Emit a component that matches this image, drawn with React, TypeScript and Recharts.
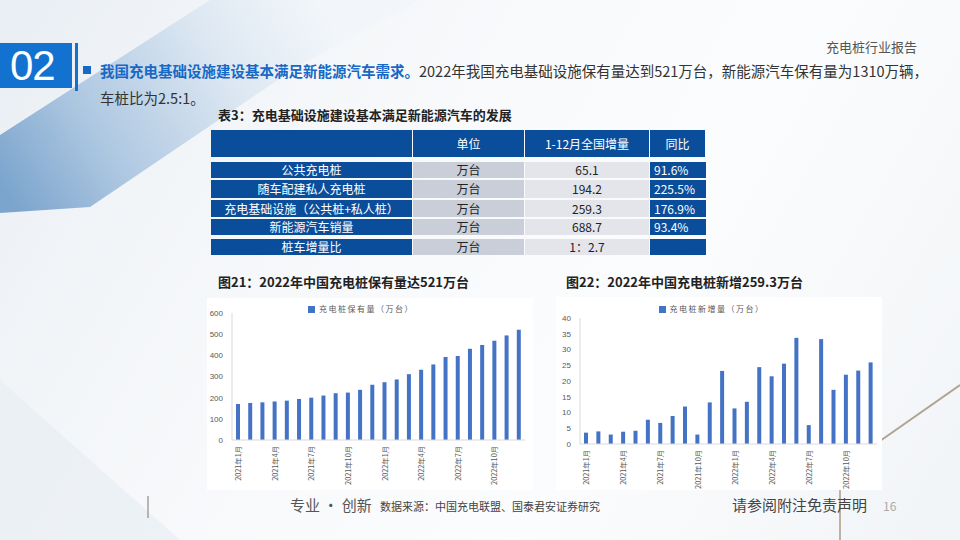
import React from 'react';
import { BarChart, Bar, XAxis, YAxis, Legend } from 'recharts';

const months = [
  '2021年1月', '2021年2月', '2021年3月', '2021年4月', '2021年5月', '2021年6月',
  '2021年7月', '2021年8月', '2021年9月', '2021年10月', '2021年11月', '2021年12月',
  '2022年1月', '2022年2月', '2022年3月', '2022年4月', '2022年5月', '2022年6月',
  '2022年7月', '2022年8月', '2022年9月', '2022年10月', '2022年11月', '2022年12月',
];
const stockValues = [170, 175, 178, 182, 186, 194, 200, 210, 221, 224, 237, 261, 273, 286, 311, 332, 357, 392, 397, 431, 449, 469, 494, 521];
const addedValues = [3.6, 4.0, 3.0, 3.9, 4.2, 7.7, 6.7, 8.9, 11.9, 3.0, 13.2, 23.2, 11.3, 13.4, 24.4, 21.5, 25.5, 33.7, 6.0, 33.3, 17.2, 22.0, 23.3, 25.9];
const stockTicks = [0, 100, 200, 300, 400, 500, 600];
const addedTicks = [0, 5, 10, 15, 20, 25, 30, 35, 40];

const tableHeader = ['', '单位', '1-12月全国增量', '同比'];
const rowLabels = ['公共充电桩', '随车配建私人充电桩', '充电基础设施（公共桩+私人桩）', '新能源汽车销量', '桩车增量比'];
const rowUnits = ['万台', '万台', '万台', '万台', '万台'];
const rowIncrements = ['65.1', '194.2', '259.3', '688.7', '1：2.7'];
const rowYoy = ['91.6%', '225.5%', '176.9%', '93.4%', ''];

const stockData = months.map((m, i) => ({ month: m, v: stockValues[i] }));
const addedData = months.map((m, i) => ({ month: m, v: addedValues[i] }));

const CJK = '"Noto Sans CJK SC", "Noto Sans", sans-serif';
const BAR = '#4472C4';
const TBLUE = '#0A4E9B';

const RotTick = (props: any) => {
  const { x, y, payload } = props;
  const yy = y - 2;
  return (
    <text x={x} y={yy} transform={`rotate(-90, ${x}, ${yy})`} textAnchor="end" dominantBaseline="central"
      fontSize={7.3} fill="#595959" fontFamily={CJK}>
      {payload.value}
    </text>
  );
};

type PanelProps = {
  data: any[]; name: string; ticks: number[]; left: number; top: number; width: number; height: number;
  yWidth: number; mRight: number; plotTop: number; xHeight: number; legendTop: number;
};

const EXTRA = 6;

const Panel = (p: PanelProps) => (
  <div style={{ position: 'absolute', left: p.left, top: p.top, width: p.width, height: p.height, background: '#ffffff' }}>
    <BarChart width={p.width} height={p.height + EXTRA} data={p.data}
      margin={{ top: p.plotTop - 2, right: p.mRight, left: 0, bottom: 0 }}>
      <Legend verticalAlign="top" align="center" iconType="square" iconSize={7}
        wrapperStyle={{ top: p.legendTop, height: 2, overflow: 'visible', fontSize: 8, lineHeight: '10px', fontFamily: CJK }}
        formatter={(v: any) => <span style={{ color: '#595959', letterSpacing: 1.5 }}>{v}</span>} />
      <XAxis dataKey="month" interval={2} height={p.xHeight + EXTRA} tick={<RotTick />} tickLine={false}
        axisLine={{ stroke: '#D9D9D9' }} />
      <YAxis width={p.yWidth} ticks={p.ticks} domain={[p.ticks[0], p.ticks[p.ticks.length - 1]]}
        tick={{ fontSize: 8, fill: '#595959', fontFamily: '"Liberation Sans", Arial, sans-serif' }}
        tickLine={false} axisLine={{ stroke: '#D9D9D9' }} tickMargin={3} />
      <Bar dataKey="v" name={p.name} fill={BAR} barSize={4} isAnimationActive={false} />
    </BarChart>
  </div>
);

const colX = [211, 413, 525, 650, 706];
const rowY: [number, number][] = [[162, 178], [180, 198], [200, 217], [219, 235], [239, 255]];

const cell = (l: number, t: number, w: number, h: number, bg: string, color: string, text: string, align: string, key: string) => (
  <div key={key} style={{
    position: 'absolute', left: l, top: t, width: w, height: h, background: bg, color,
    fontSize: 12, fontFamily: CJK, lineHeight: `${h}px`, textAlign: align as any,
    paddingLeft: align === 'left' ? 4 : 0, boxSizing: 'border-box', whiteSpace: 'nowrap',
  }}>{text}</div>
);

export default function App() {
  const cells: React.ReactNode[] = [];
  for (let c = 0; c < 4; c++) {
    cells.push(cell(colX[c], 130, colX[c + 1] - colX[c] - 1, 27, TBLUE, '#ffffff', tableHeader[c], 'center', `h${c}`));
  }
  rowY.forEach(([t, b], r) => {
    const h = b - t;
    cells.push(cell(colX[0], t, colX[1] - colX[0] - 1, h, TBLUE, '#ffffff', rowLabels[r], 'center', `a${r}`));
    cells.push(cell(colX[1], t, colX[2] - colX[1] - 1, h, '#C9CED8', '#222222', rowUnits[r], 'center', `b${r}`));
    cells.push(cell(colX[2], t, colX[3] - colX[2] - 1, h, '#E3E5EB', '#222222', rowIncrements[r], 'center', `c${r}`));
    cells.push(cell(colX[3], t, colX[4] - colX[3], h, TBLUE, '#ffffff', rowYoy[r], 'left', `d${r}`));
  });

  return (
    <div style={{
      position: 'fixed', left: 0, top: 0, width: 960, height: 540, overflow: 'hidden', fontFamily: CJK,
      background: 'linear-gradient(120deg, #e9eef4 0%, #f2f5f8 20%, #f9fafc 45%, #fbfcfd 65%, #f1f4f7 100%)',
    }}>
      <svg width={960} height={540} style={{ position: 'absolute', left: 0, top: 0 }}>
        <defs>
          <linearGradient id="ribbon" gradientUnits="userSpaceOnUse" x1="20" y1="215" x2="330" y2="20">
            <stop offset="0%" stopColor="#6f9cc9" />
            <stop offset="30%" stopColor="#a7c3df" />
            <stop offset="70%" stopColor="#dce7f2" />
            <stop offset="100%" stopColor="#f2f6fa" />
          </linearGradient>
        </defs>
        <polygon points="0,135 210,0 420,0 300,65 90,207 0,213" fill="url(#ribbon)" opacity={0.9} />
        <polygon points="0,380 180,540 0,540" fill="#e6ecf2" opacity={0.6} />
        <line x1={880} y1={441} x2={960} y2={385} stroke="#a09078" strokeWidth={2} opacity={0.8} />
        <line x1={840} y1={490} x2={840} y2={540} stroke="#a08a74" strokeWidth={1.5} opacity={0.85} />
        <line x1={148} y1={496} x2={148} y2={518} stroke="#777777" strokeWidth={1} />
      </svg>

      <div style={{ position: 'absolute', left: 0, top: 43, width: 72, height: 45, background: '#1372D0' }} />
      <div style={{ position: 'absolute', left: 75, top: 43, width: 3, height: 48, background: '#1372D0' }} />
      <div style={{
        position: 'absolute', left: 10, top: 43, width: 52, height: 45, color: '#ffffff', fontSize: 42,
        lineHeight: '45px', fontFamily: '"Liberation Sans", Arial, sans-serif', letterSpacing: -1,
      }}>02</div>

      <div style={{ position: 'absolute', left: 826, top: 37, fontSize: 13, color: '#555555' }}>充电桩行业报告</div>

      <div style={{ position: 'absolute', left: 83, top: 66, width: 8, height: 8, background: '#1769C6' }} />
      <div style={{ position: 'absolute', left: 100, top: 60, fontSize: 14.5, lineHeight: '22px', color: '#333333', whiteSpace: 'nowrap' }}>
        <span style={{ color: '#1769C6', fontWeight: 700 }}>我国充电基础设施建设基本满足新能源汽车需求。</span>
        2022年我国充电基础设施保有量达到521万台，新能源汽车保有量为1310万辆，
      </div>
      <div style={{ position: 'absolute', left: 100, top: 87, fontSize: 14.5, lineHeight: '22px', color: '#333333' }}>车桩比为2.5:1。</div>

      <div style={{ position: 'absolute', left: 218, top: 106, fontSize: 13, fontWeight: 700, color: '#222222', lineHeight: '18px' }}>
        表3：充电基础设施建设基本满足新能源汽车的发展
      </div>
      {cells}

      <div style={{ position: 'absolute', left: 218, top: 273, fontSize: 13, fontWeight: 700, color: '#222222', lineHeight: '18px' }}>
        图21：2022年中国充电桩保有量达521万台
      </div>
      <div style={{ position: 'absolute', left: 566, top: 273, fontSize: 13, fontWeight: 700, color: '#222222', lineHeight: '18px' }}>
        图22：2022年中国充电桩新增259.3万台
      </div>

      <Panel data={stockData} name="充电桩保有量（万台）" ticks={stockTicks} left={207} top={298} width={326} height={192}
        yWidth={25} mRight={8} plotTop={15} xHeight={50} legendTop={6} />
      <Panel data={addedData} name="充电桩新增量（万台）" ticks={addedTicks} left={556} top={297} width={326} height={193}
        yWidth={24} mRight={5} plotTop={21} xHeight={46} legendTop={7} />

      <div style={{ position: 'absolute', left: 290, top: 495, fontSize: 15, color: '#555555', lineHeight: '20px' }}>专业 · 创新</div>
      <div style={{ position: 'absolute', left: 380, top: 498, fontSize: 11, color: '#444444', lineHeight: '16px' }}>数据来源：中国充电联盟、国泰君安证券研究</div>
      <div style={{ position: 'absolute', left: 732, top: 495, fontSize: 15, color: '#444444', lineHeight: '20px' }}>请参阅附注免责声明</div>
      <div style={{ position: 'absolute', left: 883, top: 498, fontSize: 12, color: '#aaaaaa', lineHeight: '16px' }}>16</div>
    </div>
  );
}
